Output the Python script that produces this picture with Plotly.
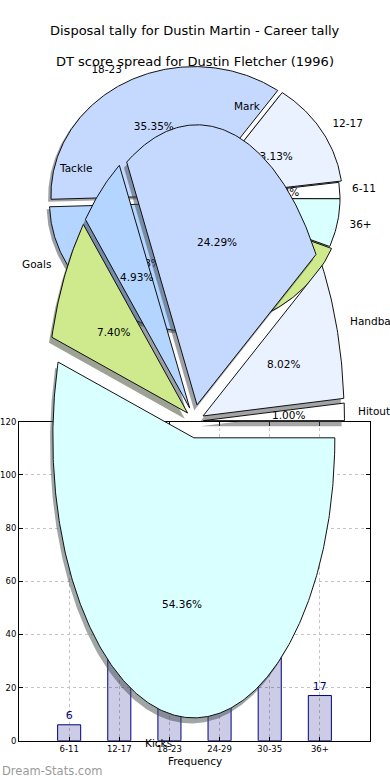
import numpy as np
import plotly.graph_objects as go

# ---------------- data ----------------
title_main = "Disposal tally for Dustin Martin - Career tally"
title_dt = "DT score spread for Dustin Fletcher (1996)"

dt_labels = ["6-11", "12-17", "18-23", "24-29", "30-35", "36+"]
dt_pcts = [2.02, 13.13, 35.35, 28.28, 15.15, 6.06]

disp_labels = ["Hitout", "Handball", "Mark", "Tackle", "Goals", "Kicks"]
disp_pcts = [1.00, 8.02, 24.29, 4.93, 7.40, 54.36]

bar_categories = ["6-11", "12-17", "18-23", "24-29", "30-35", "36+"]
bar_values = [6, 36, 62, 58, 42, 17]
y_ticks = [0, 20, 40, 60, 80, 100, 120]

x_title = "Frequency"
watermark = "Dream-Stats.com"

# ---------------- style ----------------
W, H = 390, 780
FONT = "DejaVu Sans"
wedge_colors = ["#FFFFFF", "#EAF1FF", "#C5D9FF", "#B3D5FF", "#CFEA8C", "#D9FFFF"]

# vertical calibration of the rendered page (screen = OFF + SC * figure_px)
OFF, SC = 4.4, 0.987


def fy(y):
    """figure pixel (from top) that lands on screen pixel y"""
    return (y - OFF) / SC


# pie geometry in screen-pixel space (center x, center y, radius x, radius y)
dt_geom = (196.5, 198.0, 143.5, 128.6)
dt_explode = [0.0, 0.02, 0.03, 0.04, 0.02, 0.0]
disp_geom = (195.0, 420.5, 141.0, 280.0)
disp_explode = [0.06, 0.06, 0.06, 0.06, 0.06, 0.06]

# bar plot area in screen pixels
BX0, BX1, BY0, BY1 = 19, 370, 421, 740


def hex_rgb(h):
    h = h.lstrip("#")
    return tuple(int(h[i:i + 2], 16) for i in (0, 2, 4))


def pie_parts(pcts, geom, explode):
    cx, cy, rx, ry = geom
    cum = np.concatenate([[0.0], np.cumsum(pcts)]) * 3.6
    parts = []
    for i in range(len(pcts)):
        a0, a1 = cum[i], cum[i + 1]
        mid = np.radians((a0 + a1) / 2)
        ox = explode[i] * rx * np.cos(mid)
        oy = -explode[i] * ry * np.sin(mid)
        t = np.radians(np.linspace(a0, a1, max(8, int((a1 - a0) * 1.5))))
        ax = cx + ox + rx * np.cos(t)
        ay = cy + oy - ry * np.sin(t)
        xs = [cx + ox] + list(ax) + [cx + ox]
        ys = [cy + oy] + list(ay) + [cy + oy]
        lab = (cx + ox + 1.1 * rx * np.cos(mid), cy + oy - 1.1 * ry * np.sin(mid))
        pct = (cx + ox + 0.6 * rx * np.cos(mid), cy + oy - 0.6 * ry * np.sin(mid))
        parts.append(dict(xs=xs, ys=ys, lab=lab, pct=pct, right=np.cos(mid) > 0))
    return parts


def add_pie(fig, pcts, geom, explode, xa, ya):
    cx, cy, rx, ry = geom
    sdx, sdy = -0.02 * rx, 0.02 * ry
    parts = pie_parts(pcts, geom, explode)
    for i, p in enumerate(parts):
        r, g, b = hex_rgb(wedge_colors[i % len(wedge_colors)])
        fig.add_trace(go.Scatter(
            x=[v + sdx for v in p["xs"]], y=[v + sdy for v in p["ys"]],
            mode="lines", fill="toself", line=dict(width=0),
            fillcolor=f"rgba({int(r*0.3)},{int(g*0.3)},{int(b*0.3)},0.5)",
            xaxis=xa, yaxis=ya, hoverinfo="skip", showlegend=False))
    for i, p in enumerate(parts):
        fig.add_trace(go.Scatter(
            x=p["xs"], y=p["ys"], mode="lines", fill="toself",
            line=dict(color="#111111", width=1),
            fillcolor=wedge_colors[i % len(wedge_colors)],
            xaxis=xa, yaxis=ya, hoverinfo="skip", showlegend=False))
    return parts


fig = go.Figure()

# ---------------- bar chart ----------------
fig.add_trace(go.Bar(
    x=bar_categories, y=bar_values, width=0.46,
    marker=dict(color="rgba(0,0,128,0.2)", line=dict(color="#000080", width=1)),
    text=[str(v) for v in bar_values], textposition="outside",
    textfont=dict(family=FONT, size=11, color="#000080"),
    cliponaxis=False, xaxis="x", yaxis="y", showlegend=False, hoverinfo="skip"))

# ---------------- DT pie ----------------
dt_parts = add_pie(fig, dt_pcts, dt_geom, dt_explode, "x2", "y2")
fig.add_trace(go.Scatter(
    x=[p["lab"][0] - (2 if p["right"] else -2) for p in dt_parts],
    y=[p["lab"][1] for p in dt_parts],
    mode="text", text=dt_labels,
    textposition=["middle right" if p["right"] else "middle left" for p in dt_parts],
    textfont=dict(family=FONT, size=10.5, color="#000000"),
    xaxis="x2", yaxis="y2", hoverinfo="skip", showlegend=False))
fig.add_trace(go.Scatter(
    x=[p["pct"][0] for p in dt_parts], y=[p["pct"][1] for p in dt_parts],
    mode="text", text=[f"{v:.2f}%" for v in dt_pcts], textposition="middle center",
    textfont=dict(family=FONT, size=10.5, color="#000000"),
    xaxis="x2", yaxis="y2", hoverinfo="skip", showlegend=False))

# ---------------- Disposal pie ----------------
disp_parts = add_pie(fig, disp_pcts, disp_geom, disp_explode, "x3", "y3")

annotations = []
for lab, p in zip(disp_labels, disp_parts):
    annotations.append(dict(
        x=p["lab"][0] - (1.5 if p["right"] else 0), y=p["lab"][1], xref="x3", yref="y3",
        text=lab, showarrow=False, xanchor="left" if p["right"] else "right",
        yanchor="middle", font=dict(family=FONT, size=10.5, color="#000000"), borderpad=0))
for v, p in zip(disp_pcts, disp_parts):
    annotations.append(dict(
        x=p["pct"][0], y=p["pct"][1], xref="x3", yref="y3", text=f"{v:.2f}%",
        showarrow=False, xanchor="center", yanchor="middle",
        font=dict(family=FONT, size=10.5, color="#000000"), borderpad=0))

annotations += [
    dict(x=0.5, y=1 - fy(30) / H, xref="paper", yref="paper", text=title_main,
         showarrow=False, xanchor="center", yanchor="middle",
         font=dict(family=FONT, size=13, color="#000000")),
    dict(x=0.5, y=1 - fy(61) / H, xref="paper", yref="paper", text=title_dt,
         showarrow=False, xanchor="center", yanchor="middle",
         font=dict(family=FONT, size=13, color="#000000")),
    dict(x=0.5 * (BX0 + BX1) / W, y=1 - fy(760) / H, xref="paper", yref="paper",
         text=x_title, showarrow=False, xanchor="center", yanchor="middle",
         font=dict(family=FONT, size=10.5, color="#000000")),
    dict(x=0, y=1 - fy(770) / H, xref="paper", yref="paper", text=watermark,
         showarrow=False, xanchor="left", yanchor="middle",
         font=dict(family=FONT, size=11.5, color="#9a9a9a")),
]

grid = dict(showgrid=True, gridcolor="#c4c4c4", griddash="dot", gridwidth=1)
y_top_val, y_bot_val = OFF, OFF + SC * H
fig.update_layout(
    width=W, height=H, margin=dict(l=0, r=0, t=0, b=0),
    paper_bgcolor="white", plot_bgcolor="rgba(0,0,0,0)",
    showlegend=False, annotations=annotations,
    xaxis=dict(domain=[BX0 / W, BX1 / W], anchor="y", type="category",
               categoryorder="array", categoryarray=bar_categories, range=[-1, 6],
               showline=True, mirror="ticks", linecolor="black", linewidth=1,
               ticks="inside", ticklen=4, tickcolor="black",
               tickfont=dict(family=FONT, size=8.5, color="black"), zeroline=False, **grid),
    yaxis=dict(domain=[1 - fy(BY1) / H, 1 - fy(BY0) / H], anchor="x", range=[0, 120],
               tickvals=y_ticks, showline=True, mirror="ticks", linecolor="black",
               linewidth=1, ticks="inside", ticklen=4, tickcolor="black",
               tickfont=dict(family=FONT, size=8.5, color="black"), zeroline=False, **grid),
    xaxis2=dict(domain=[0, 1], anchor="y2", range=[0, W], visible=False),
    yaxis2=dict(domain=[0, 1], anchor="x2", range=[y_bot_val, y_top_val], visible=False),
    xaxis3=dict(domain=[0, 1], anchor="y3", range=[0, W], visible=False),
    yaxis3=dict(domain=[0, 1], anchor="x3", range=[y_bot_val, y_top_val], visible=False),
)

post = (
    "document.documentElement.style.margin='0';"
    "document.body.style.margin='0';"
    "document.body.style.overflow='hidden';"
)
fig.write_html(
    "out.html",
    config={"responsive": False, "displayModeBar": False},
    post_script=post,
)
